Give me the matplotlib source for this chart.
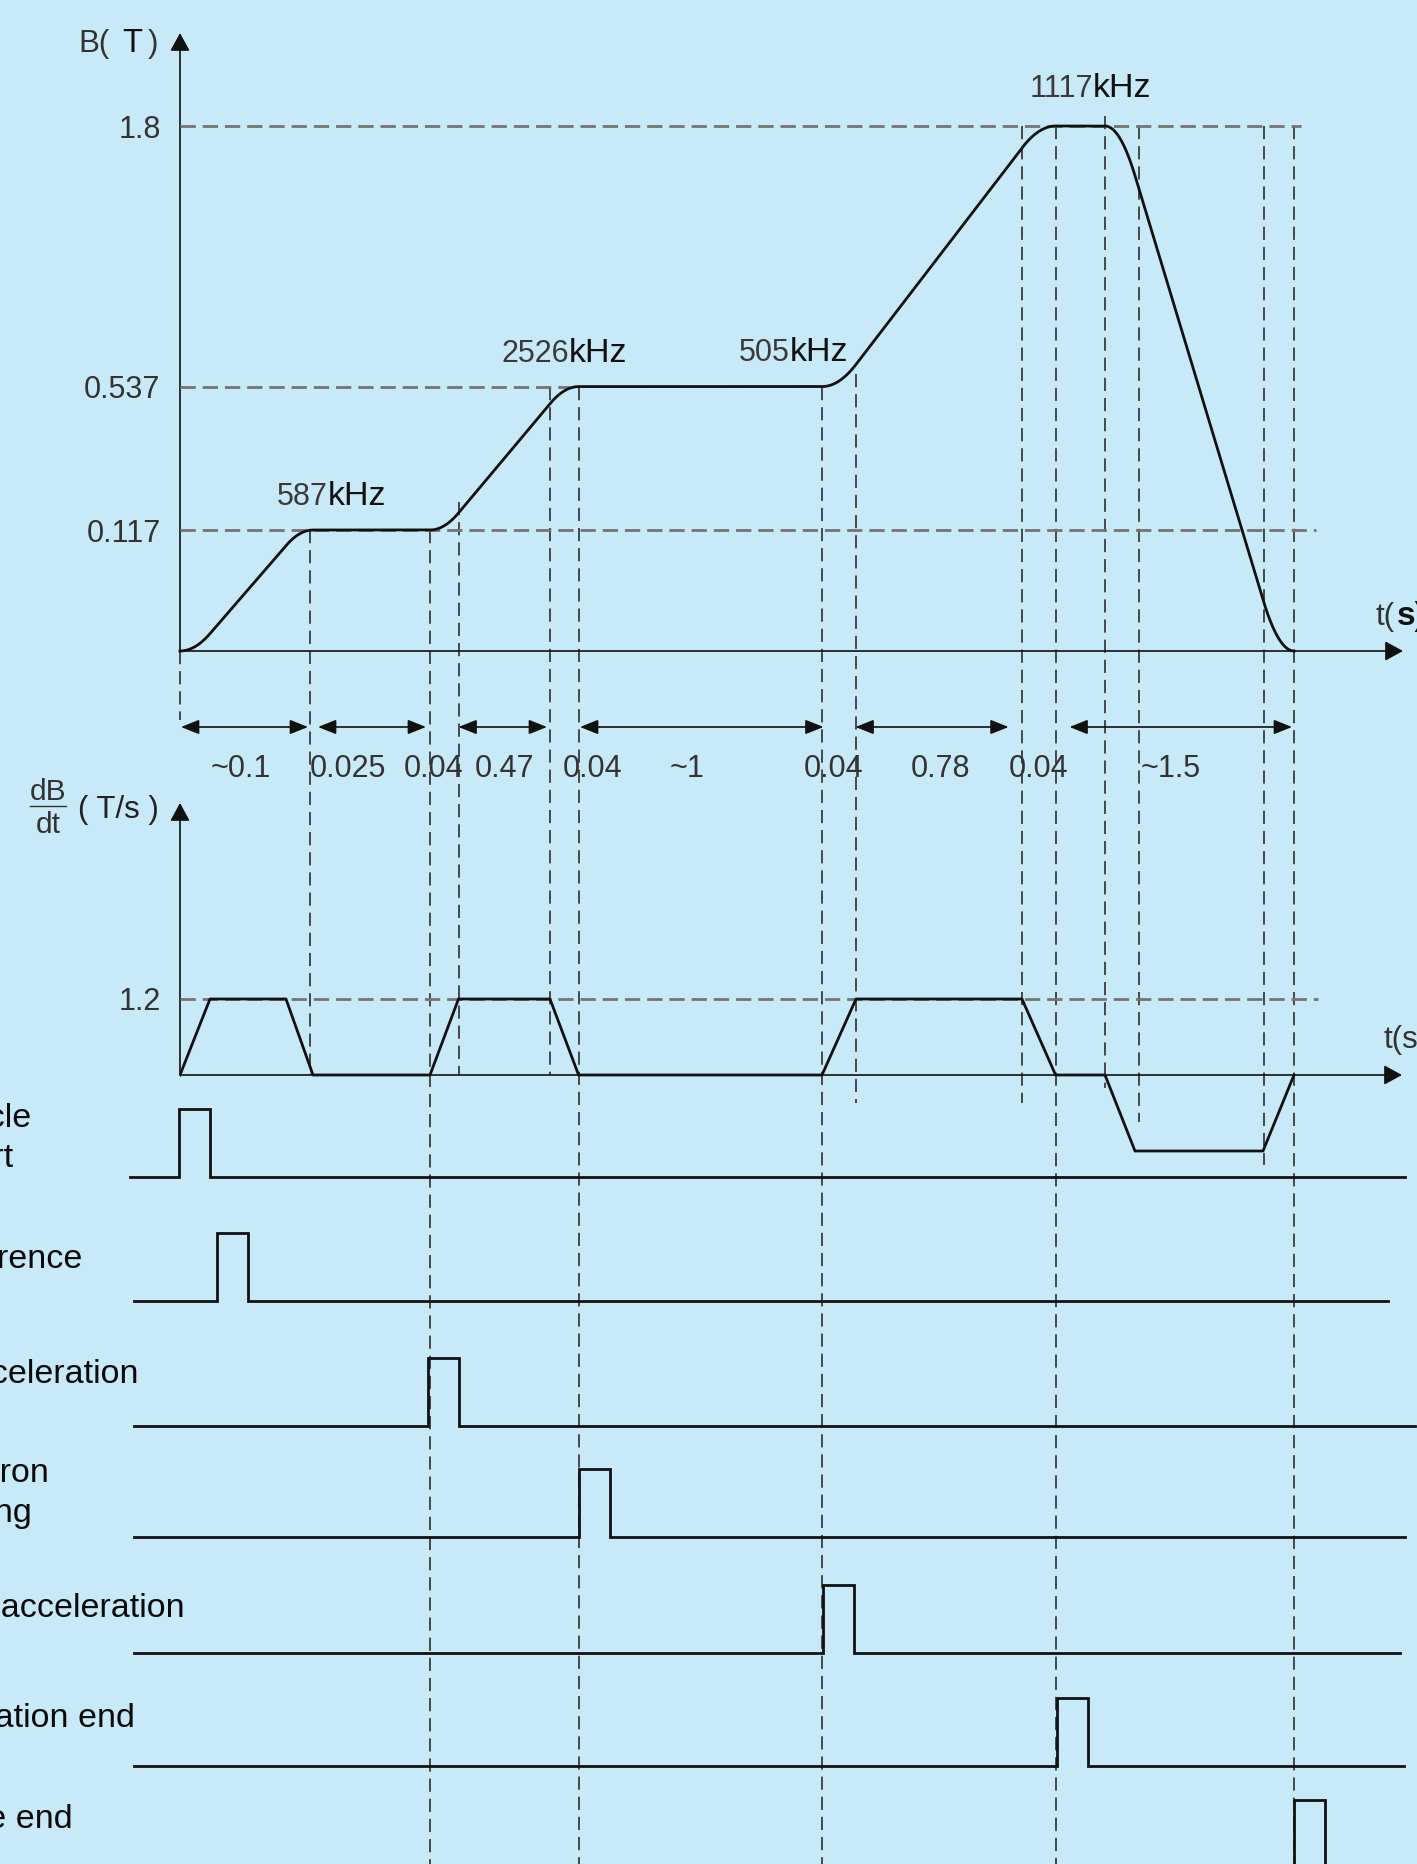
import numpy as np
import matplotlib
matplotlib.use("Agg")
import matplotlib.pyplot as plt

# --- field plateaus (T) and rf frequency on each one ---
b_levels = [0.117, 0.537, 1.8]
b_labels = ["0.117", "0.537", "1.8"]
freq_khz = ["587", "2526", "505", "1117"]

# ramp rate (T/s)
dbdt_max = 1.2

# the time axis is schematic (not to scale): phase boundaries along it
t_edges = [0, 130, 250, 278.5, 370, 398.6, 642, 676, 842, 875.6, 925, 959, 1084, 1114]

# dB/dt trapezoids, corner times and values
dbdt_t = [0, 30, 106, 133, 250, 278.5, 370, 398.6, 642, 676, 842, 875.6, 925, 955, 1083, 1114]
dbdt_v = [0, 1.2, 1.2, 0, 0, 1.2, 1.2, 0, 0, 1.2, 1.2, 0, 0, -1.2, -1.2, 0]

# phase durations (s)
dur_labels = ["~0.1", "0.025", "0.04", "0.47", "0.04", "~1", "0.04", "0.78", "0.04", "~1.5"]

# timing events
event_names = ["Cycle\nstart", "Reference", "Acceleration", "Electron\ncooling",
               "Re-acceleration", "Acceleration end", "Cycle end"]
event_t = [-1.5, 36.5, 248, 398.6, 643, 876.6, 1113.5]

# ---------------- layout (pixels) ----------------
W, H = 1417, 1864
X0 = 180                       # column of the time origin
B_BASE = 651                   # row of B = 0
B_LEVEL_PX = [121, 264.4, 525]  # drawn height of each plateau above the baseline
D_ZERO = 1075                  # row of dB/dt = 0
D_PX = 76 / dbdt_max           # px per T/s
BG = "#c8e9f7"

plt.rcParams["font.family"] = ["Liberation Sans", "DejaVu Sans"]
plt.rcParams["lines.scale_dashes"] = False

H_DASH = (0, (11, 5))
V_DASH = (0, (9.5, 5))
H_COL = "#747474"
V_COL = "#3c3c3c"

fig = plt.figure(figsize=(W / 100, H / 100), dpi=100, facecolor=BG)

# overlay in pixel units, sharing the time mapping of the panels
ax_G = fig.add_axes([0, 0, 1, 1])
ax_G.set_xlim(-X0, W - X0)
ax_G.set_ylim(H, 0)
ax_G.axis("off")

# ---------------- B panel ----------------
Bk = [-10, 0] + b_levels + [10]
slope_top = (B_LEVEL_PX[2] - B_LEVEL_PX[1]) / (b_levels[2] - b_levels[1])
Pk = [-10 * B_LEVEL_PX[0] / b_levels[0], 0] + B_LEVEL_PX + [B_LEVEL_PX[2] + (10 - b_levels[2]) * slope_top]


def b_fwd(b):
    return np.interp(b, Bk, Pk)


def b_inv(p):
    return np.interp(p, Pk, Bk)


ax_B = fig.add_axes([X0 / W, (H - B_BASE) / H, (W - X0) / W, B_BASE / H])
ax_B.set_facecolor("none")
ax_B.set_yscale("function", functions=(b_fwd, b_inv))
ax_B.set_xlim(0, W - X0)
ax_B.set_ylim(0, float(b_inv(B_BASE)))
for s in ax_B.spines.values():
    s.set_visible(False)
ax_B.set_xticks([])
ax_B.set_yticks(b_levels)
ax_B.set_yticklabels(b_labels)
ax_B.tick_params(axis="y", length=0, pad=14, labelsize=22, labelcolor="#333333")
ax_B.minorticks_off()

# B(t): integral of the trapezoidal ramp profile, scaled so each ramp ends on its plateau
t_fine = np.union1d(np.linspace(0, t_edges[-1], 3000), dbdt_t)
start_px = [0] + B_LEVEL_PX
end_px = B_LEVEL_PX + [0]
rate = np.zeros_like(t_fine)
for i in range(4):
    tt = dbdt_t[4 * i:4 * i + 4]
    vv = dbdt_v[4 * i:4 * i + 4]
    area = np.trapezoid(vv, tt)
    rate += np.interp(t_fine, tt, vv, left=0, right=0) * (end_px[i] - start_px[i]) / area
pos = np.concatenate([[0], np.cumsum((rate[1:] + rate[:-1]) / 2 * np.diff(t_fine))])
b_curve = b_inv(pos)
ax_B.plot(t_fine, b_curve, color="#111111", lw=2.0, clip_on=False, zorder=5)

# horizontal guides
ax_B.hlines(b_levels[2], 0, 1121, colors=H_COL, lw=2.0, linestyles=[H_DASH])
ax_B.hlines(b_levels[1], 0, 390, colors=H_COL, lw=2.0, linestyles=[H_DASH])
ax_B.hlines(b_levels[0], 0, 1136, colors=H_COL, lw=2.0, linestyles=[H_DASH])

# ---------------- dB/dt panel ----------------
D_TOP, D_BOT = 760, 1180
ax_D = fig.add_axes([X0 / W, (H - D_BOT) / H, (W - X0) / W, (D_BOT - D_TOP) / H])
ax_D.set_facecolor("none")
ax_D.set_xlim(0, W - X0)
ax_D.set_ylim(-(D_BOT - D_ZERO) / D_PX, (D_ZERO - D_TOP) / D_PX)
for s in ax_D.spines.values():
    s.set_visible(False)
ax_D.set_xticks([])
ax_D.set_yticks([dbdt_max])
ax_D.set_yticklabels(["1.2"])
ax_D.tick_params(axis="y", length=0, pad=14, labelsize=22, labelcolor="#333333")
ax_D.plot(dbdt_t, dbdt_v, color="#111111", lw=2.0, zorder=5)
ax_D.hlines(dbdt_max, 0, 1138, colors=H_COL, lw=2.0, linestyles=[H_DASH])

# ---------------- axes arrows ----------------
def axis_arrow(x0, y0, x1, y1):
    ax_G.annotate("", xy=(x1, y1), xytext=(x0, y0),
                  arrowprops=dict(arrowstyle="-|>,head_length=0.55,head_width=0.3",
                                  lw=1.2, color="#111111", shrinkA=0, shrinkB=0,
                                  mutation_scale=20))


axis_arrow(0, B_BASE, 0, 33)
axis_arrow(0, B_BASE, 1223, B_BASE)
axis_arrow(0, D_ZERO, 0, 803)
axis_arrow(0, D_ZERO, 1222, D_ZERO)

ax_G.text(-102, 52, "B(", ha="left", va="baseline", fontsize=22.5, color="#333333")
ax_G.text(-58, 52, "T", ha="left", va="baseline", fontsize=23.5, color="#111111")
ax_G.text(-32, 52, ")", ha="left", va="baseline", fontsize=22.5, color="#333333")

ax_G.text(1195, 625, "t(", ha="left", va="baseline", fontsize=22.5, color="#333333")
ax_G.text(1217, 625, "s)", ha="left", va="baseline", fontsize=24, color="#111111",
          fontweight="bold")
ax_G.text(1203, 1048, "t(s)", ha="left", va="baseline", fontsize=22.5, color="#333333")

ax_G.text(-132, 800, "dB", ha="center", va="baseline", fontsize=21.5, color="#333333")
ax_G.plot([-150, -114], [806, 806], color="#333333", lw=1.0)
ax_G.text(-132, 833, "dt", ha="center", va="baseline", fontsize=21.5, color="#333333")
ax_G.text(-102, 818, "( T/s )", ha="left", va="baseline", fontsize=22.5, color="#222222")

# rf frequency labels
freq_x = [148, 389, 609.4, 913]
freq_y = [505, 362, 361, 97]
for f, x, y in zip(freq_khz, freq_x, freq_y):
    ax_G.text(x, y, f, ha="right", va="baseline", fontsize=22, color="#3a3a3a")
    ax_G.text(x, y, "kHz", ha="left", va="baseline", fontsize=24.5, color="#111111")

# ---------------- vertical guides ----------------
guide_top_b = [0, 0.117, 0.117, 0.2, 0.537, 0.537, 0.537, 0.6, 1.8, 1.8, 1.85, 1.8, 1.8, 1.8]
guide_bottom = [720, 1075, H, 1075, 1075, H, H, 1103, 1103, H, 1088, 1122, 1165, H]
to_overlay = ax_G.transData.inverted()
for t, bt, yb in zip(t_edges, guide_top_b, guide_bottom):
    ytop = to_overlay.transform(ax_B.transData.transform((t, bt)))[1]
    ax_G.plot([t, t], [ytop, yb], color=V_COL, lw=1.3, linestyle=V_DASH, zorder=1)

# ---------------- duration arrows ----------------
dur_arrows = [(1, 128), (138, 246), (278.5, 367), (400, 643.5), (675.5, 828.6), (889.5, 1112)]
for a, b in dur_arrows:
    ax_G.annotate("", xy=(b, 727), xytext=(a, 727),
                  arrowprops=dict(arrowstyle="<|-|>,head_length=0.55,head_width=0.22",
                                  lw=1.2, color="#111111", shrinkA=0, shrinkB=0,
                                  mutation_scale=20))
dur_x = [61, 168, 254, 324, 413, 507, 654, 761, 858.6, 991]
for lab, x in zip(dur_labels, dur_x):
    ax_G.text(x, 777, lab, ha="center", va="baseline", fontsize=22, color="#333333")

# ---------------- timing events ----------------
row_base = [1176.7, 1301, 1426, 1537, 1652.7, 1766, 1868]
row_x0 = [-50, -46, -46, -46, -46, -46, -46]
row_x1 = [1225, 1208, 1235, 1225, 1220, 1224, 1224]
lab_right = [-148, -97.4, -41, -131, 5, -45, -107]
lab_base = [1166.7, 1268, 1382.7, 1521.7, 1616.7, 1726.7, 1828.3]   # baseline of last line
PULSE_W, PULSE_H = 31, 68
for name, t0, yb, xa, xb, lx, ly in zip(event_names, event_t, row_base, row_x0, row_x1,
                                         lab_right, lab_base):
    ax_G.plot([xa, t0, t0, t0 + PULSE_W, t0 + PULSE_W, xb],
              [yb, yb, yb - PULSE_H, yb - PULSE_H, yb, yb],
              color="#111111", lw=2.0, solid_joinstyle="miter", zorder=4)
    ax_G.text(lx, ly, name, ha="right", va="baseline", multialignment="left",
              fontsize=24.5, color="#0a0a0a", linespacing=1.35)

fig.savefig("out.png", dpi=100, facecolor=BG)
